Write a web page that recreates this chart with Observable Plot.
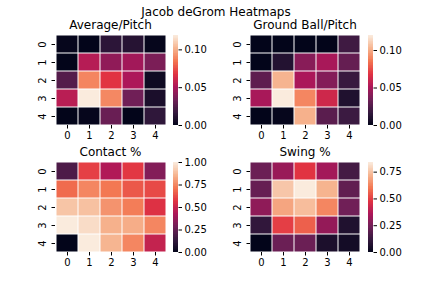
<!DOCTYPE html>
<html><head><meta charset="utf-8">
<script src="https://cdn.jsdelivr.net/npm/d3@7"></script>
<script src="https://cdn.jsdelivr.net/npm/@observablehq/plot@0.6"></script>
<style>
body{margin:0;background:#fff;}
#fig{position:relative;width:432px;height:288px;font-family:"DejaVu Sans",sans-serif;color:#000;overflow:hidden;}
#fig svg{position:absolute;overflow:visible;}
.title{position:absolute;font-size:12px;transform:translate(-50%,-50%);white-space:nowrap;line-height:1;}
</style></head><body><div id="fig"></div>
<script>
// ---- data ----
const rowLabels = [0, 1, 2, 3, 4];
const colLabels = [0, 1, 2, 3, 4];
const titles = ["Average/Pitch", "Ground Ball/Pitch", "Contact %", "Swing %"];
const suptitle = "Jacob deGrom Heatmaps";

const averagePitch = [
  [0.001, 0.000, 0.014, 0.012, 0.001],
  [0.000, 0.054, 0.043, 0.048, 0.037],
  [0.026, 0.089, 0.068, 0.051, 0.004],
  [0.055, 0.119, 0.090, 0.034, 0.008],
  [0.000, 0.001, 0.032, 0.000, 0.015]
];
const groundBallPitch = [
  [0.000, 0.000, 0.000, 0.000, 0.020],
  [0.000, 0.011, 0.041, 0.050, 0.031],
  [0.029, 0.103, 0.051, 0.040, 0.018],
  [0.050, 0.120, 0.090, 0.062, 0.010],
  [0.000, 0.001, 0.102, 0.028, 0.019]
];
const contactPct = [
  [0.20, 0.60, 0.44, 0.58, 0.33],
  [0.69, 0.75, 0.72, 0.65, 0.62],
  [0.90, 0.89, 0.78, 0.73, 0.56],
  [1.00, 0.96, 0.85, 0.84, 0.75],
  [0.00, 1.00, 0.86, 0.75, 0.49]
];
const swingPct = [
  [0.23, 0.32, 0.48, 0.34, 0.15],
  [0.22, 0.76, 0.84, 0.72, 0.21],
  [0.30, 0.69, 0.74, 0.63, 0.24],
  [0.11, 0.50, 0.56, 0.31, 0.07],
  [0.00, 0.23, 0.23, 0.06, 0.04]
];
const colorbarTicks = [
  [0, 0.05, 0.10],
  [0, 0.05, 0.10],
  [0, 0.25, 0.5, 0.75, 1.0],
  [0, 0.25, 0.5, 0.75]
];

// seaborn "rocket" colormap stops
const rocketStops = ["#03051a", "#35193e", "#701f57", "#ad1759", "#e13342", "#f37651", "#f6b48f", "#faebdd"];
const rocket = d3.piecewise(d3.interpolateRgb, rocketStops);

// ---- layout ----
const panels = [
  {data: averagePitch,   hx: 55,  hy: 35,  hw: 111, hh: 90, cbx: 172.5},
  {data: groundBallPitch, hx: 250, hy: 35,  hw: 110, hh: 90, cbx: 367.5},
  {data: contactPct,     hx: 55,  hy: 162, hw: 111, hh: 90, cbx: 172.5},
  {data: swingPct,       hx: 250, hy: 162, hw: 110, hh: 90, cbx: 367.5}
];

const fig = document.getElementById("fig");
function addTitle(text, x, y) {
  const d = document.createElement("div");
  d.className = "title"; d.textContent = text;
  d.style.left = x + "px"; d.style.top = y + "px";
  fig.appendChild(d);
}
addTitle(suptitle, 216, 12);

panels.forEach((p, i) => {
  const vals = p.data.flat();
  const vmin = d3.min(vals), vmax = d3.max(vals);
  const cells = [];
  p.data.forEach((row, r) => row.forEach((v, c) => cells.push({row: rowLabels[r], col: colLabels[c], v})));
  const color = {type: "linear", domain: [vmin, vmax], interpolate: rocket};

  const ml = 30, mt = 5, mr = 5, mb = 25;
  const heat = Plot.plot({
    width: p.hw + ml + mr, height: p.hh + mt + mb,
    marginLeft: ml, marginTop: mt, marginRight: mr, marginBottom: mb,
    style: {fontFamily: "DejaVu Sans", fontSize: "10px", color: "#000", background: "transparent", overflow: "visible"},
    x: {type: "band", domain: colLabels, padding: 0, label: null},
    y: {type: "band", domain: rowLabels, padding: 0, label: null},
    color,
    marks: [
      Plot.cell(cells, {x: "col", y: "row", fill: "v", inset: 0.5}),
      Plot.axisX({tickSize: 3.5, tickPadding: 3, fontSize: 10, label: null}),
      Plot.axisY({tickSize: 3.5, tickPadding: 6, fontSize: 10, tickRotate: -90, label: null})
    ]
  });
  heat.style.left = (p.hx - ml) + "px";
  heat.style.top = (p.hy - mt) + "px";
  fig.appendChild(heat);

  const N = 120;
  const slices = d3.range(N).map(k => ({
    y1: vmin + (vmax - vmin) * k / N,
    y2: vmin + (vmax - vmin) * (k + 1) / N,
    m: vmin + (vmax - vmin) * (k + 0.5) / N
  }));
  const cw = 4.5, cmr = 40;
  const cb = Plot.plot({
    width: cw + cmr, height: p.hh + 10,
    marginLeft: 0, marginRight: cmr, marginTop: 5, marginBottom: 5,
    style: {fontFamily: "DejaVu Sans", fontSize: "10px", color: "#000", background: "transparent", overflow: "visible"},
    x: {domain: [0, 1], axis: null},
    y: {domain: [vmin, vmax], label: null},
    color,
    marks: [
      Plot.rect(slices, {x1: 0, x2: 1, y1: "y1", y2: "y2", fill: "m", shapeRendering: "crispEdges", inset: -0.3}),
      Plot.axisY({anchor: "right", ticks: colorbarTicks[i], tickFormat: d3.format(".2f"), tickSize: 3.5, tickPadding: 3, fontSize: 10, label: null})
    ]
  });
  cb.style.left = p.cbx + "px";
  cb.style.top = (p.hy - 5) + "px";
  fig.appendChild(cb);

  addTitle(titles[i], p.hx + p.hw / 2, p.hy - 10);
});
</script>
</body></html>
